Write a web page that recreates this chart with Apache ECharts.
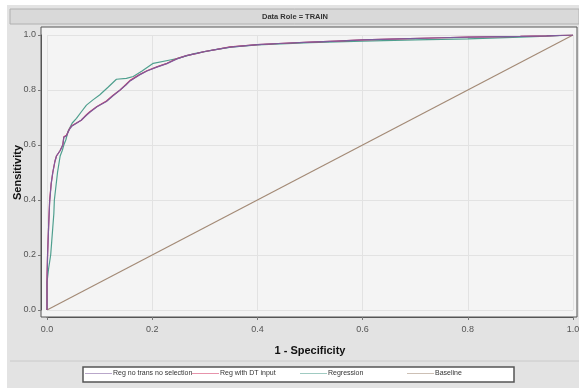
<!DOCTYPE html>
<html><head><meta charset="utf-8">
<script src="https://cdn.jsdelivr.net/npm/echarts@6/dist/echarts.min.js"></script>
<style>html,body{margin:0;padding:0;background:#fff}#c{width:579px;height:388px}</style>
</head><body><div id="c"></div>
<script>
const title = 'Data Role = TRAIN';
const xTitle = '1 - Specificity';
const yTitle = 'Sensitivity';
const seriesNames = ['Reg no trans no selection', 'Reg with DT input', 'Regression', 'Baseline'];
const regNoTrans = [[0,0],[0,0.1],[0.001,0.19],[0.003,0.3],[0.005,0.39],[0.008,0.46],[0.011,0.5],[0.015,0.54],[0.018,0.56],[0.025,0.58],[0.03,0.6],[0.032,0.628],[0.037,0.634],[0.043,0.658],[0.047,0.668],[0.056,0.679],[0.065,0.69],[0.075,0.708],[0.082,0.72],[0.095,0.739],[0.113,0.758],[0.125,0.778],[0.139,0.8],[0.15,0.818],[0.158,0.833],[0.175,0.854],[0.19,0.869],[0.21,0.884],[0.228,0.896],[0.247,0.913],[0.265,0.925],[0.285,0.933],[0.3,0.94],[0.323,0.948],[0.348,0.956],[0.4,0.965],[0.45,0.97],[0.5,0.974],[0.55,0.978],[0.6,0.982],[0.67,0.986],[0.75,0.99],[0.8,0.992],[0.9,0.995],[0.95,0.997],[1,1]];
const regDT = [[0,0],[0,0.12],[0.001,0.2],[0.003,0.3],[0.005,0.4],[0.008,0.46],[0.011,0.5],[0.015,0.54],[0.018,0.56],[0.025,0.58],[0.03,0.6],[0.032,0.63],[0.037,0.635],[0.043,0.66],[0.047,0.67],[0.056,0.68],[0.065,0.69],[0.075,0.71],[0.082,0.722],[0.095,0.74],[0.113,0.76],[0.125,0.78],[0.139,0.8],[0.15,0.82],[0.158,0.835],[0.175,0.855],[0.19,0.87],[0.21,0.885],[0.228,0.897],[0.247,0.914],[0.265,0.925],[0.285,0.933],[0.3,0.94],[0.323,0.948],[0.348,0.957],[0.4,0.965],[0.45,0.97],[0.5,0.974],[0.55,0.978],[0.6,0.982],[0.67,0.986],[0.75,0.99],[0.8,0.992],[0.9,0.995],[0.95,0.997],[1,1]];
const regression = [[0,0],[0,0.1],[0.003,0.15],[0.007,0.2],[0.009,0.25],[0.011,0.3],[0.013,0.35],[0.014,0.4],[0.017,0.45],[0.02,0.5],[0.025,0.56],[0.029,0.58],[0.032,0.6],[0.036,0.62],[0.04,0.65],[0.048,0.68],[0.056,0.697],[0.065,0.72],[0.075,0.745],[0.088,0.765],[0.1,0.782],[0.116,0.81],[0.132,0.839],[0.151,0.842],[0.164,0.849],[0.18,0.868],[0.202,0.897],[0.234,0.909],[0.247,0.914],[0.28,0.932],[0.32,0.947],[0.35,0.956],[0.4,0.964],[0.5,0.972],[0.6,0.978],[0.7,0.982],[0.8,0.986],[0.9,0.992],[0.95,0.996],[1,1]];
const baseline = [[0,0],[1,1]];
const colors = ['#7d5c9c', '#d23664', '#4f9f8e', '#a38a76'];
const legendLeft = [85, 192, 300, 407];

const font = '"Liberation Sans Narrow", "Liberation Sans", Arial, sans-serif';
const chart = echarts.init(document.getElementById('c'), null, {renderer: 'canvas'});
const datas = [regNoTrans, regDT, regression, baseline];
chart.setOption({
  animation: false,
  backgroundColor: '#ffffff',
  graphic: [
    {type: 'rect', z: -10, shape: {x: 7, y: 5, width: 572, height: 383}, style: {fill: '#e3e3e3'}},
    {type: 'rect', z: -9, shape: {x: 10, y: 9, width: 569, height: 15}, style: {fill: '#d9d9d9', stroke: '#b0b0b0', lineWidth: 1}},
    {type: 'text', z: -8, x: 295, y: 16.5, style: {text: title, fill: '#333', font: 'bold 7.5px ' + font, align: 'center', verticalAlign: 'middle'}},
    {type: 'rect', z: -9, shape: {x: 41, y: 27, width: 536, height: 290}, style: {fill: '#f4f4f4', stroke: '#555', lineWidth: 1}},
    {type: 'line', z: -9, shape: {x1: 10, y1: 361, x2: 579, y2: 361}, style: {stroke: '#cacaca', lineWidth: 1}},
    {type: 'rect', z: -9, shape: {x: 83, y: 367, width: 431, height: 15}, style: {fill: '#ffffff', stroke: '#555', lineWidth: 1.5}}
  ],
  grid: {left: 47, right: 6, top: 35, bottom: 78, containLabel: false, outerBoundsMode: 'none'},
  xAxis: {
    type: 'value', min: 0, max: 1, interval: 0.2, offset: 7,
    name: xTitle, nameLocation: 'middle', nameGap: 28, nameMoveOverlap: false,
    nameTextStyle: {fontFamily: font, fontSize: 11, fontWeight: 'bold', color: '#111'},
    axisLine: {show: true, onZero: false, lineStyle: {color: '#555', width: 1}},
    axisTick: {show: true, length: 3, lineStyle: {color: '#777'}},
    axisLabel: {fontFamily: font, fontSize: 9, color: '#555', margin: 8, formatter: v => v.toFixed(1)},
    splitLine: {show: true, lineStyle: {color: '#e2e2e2', width: 1}}
  },
  yAxis: {
    type: 'value', min: 0, max: 1, interval: 0.2, offset: 6,
    name: yTitle, nameLocation: 'middle', nameGap: 18, nameRotate: 90, nameMoveOverlap: false,
    nameTextStyle: {fontFamily: font, fontSize: 11, fontWeight: 'bold', color: '#111'},
    axisLine: {show: true, onZero: false, lineStyle: {color: '#555', width: 1}},
    axisTick: {show: true, length: 3, lineStyle: {color: '#777'}},
    axisLabel: {fontFamily: font, fontSize: 9, color: '#555', margin: 5, formatter: v => v.toFixed(1)},
    splitLine: {show: true, lineStyle: {color: '#e2e2e2', width: 1}}
  },
  legend: seriesNames.map((n, i) => ({
    data: [n], left: legendLeft[i], top: 370, itemWidth: 27, itemHeight: 8, itemGap: 0,
    icon: 'path://M0,49 L100,49 L100,51 L0,51 Z', padding: 0,
    textStyle: {fontFamily: font, fontSize: 7, color: '#333', padding: [0, 0, 0, -4]}
  })),
  series: seriesNames.map((n, i) => ({
    name: n, type: 'line', data: datas[i], symbol: 'none', showSymbol: false,
    lineStyle: {color: colors[i], width: 1.2}, itemStyle: {color: colors[i]},
    z: i === 3 ? 1 : 5 - i
  }))
});
</script></body></html>
